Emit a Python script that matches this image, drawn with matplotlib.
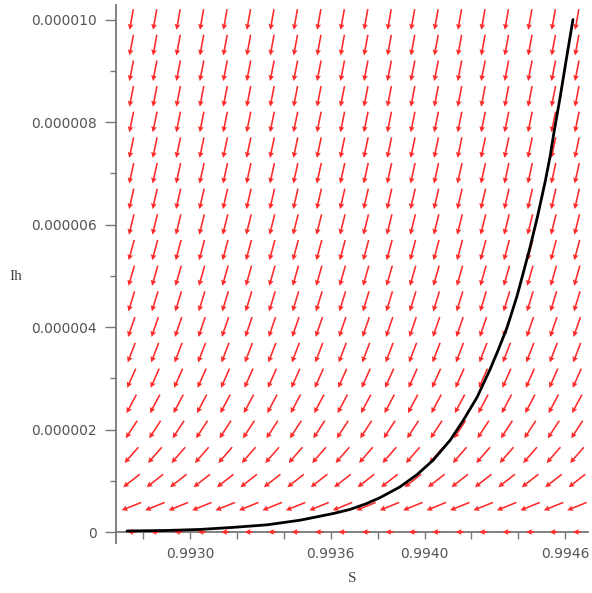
import numpy as np
import matplotlib
matplotlib.use("Agg")
import matplotlib.pyplot as plt
from matplotlib.ticker import FixedLocator, FixedFormatter

# solution curve (S, Ih)
curve_s = [0.992731, 0.992900, 0.993043, 0.993183, 0.993328, 0.993469, 0.993610,
           0.993682, 0.993750, 0.993810, 0.993895, 0.993968, 0.994036, 0.994109,
           0.994164, 0.994224, 0.994279, 0.994313, 0.994352, 0.994394, 0.994420,
           0.994450, 0.994480, 0.994515, 0.994535, 0.994552, 0.994578, 0.994608,
           0.994633]
curve_ih = [0.02e-6, 0.03e-6, 0.05e-6, 0.09e-6, 0.14e-6, 0.23e-6, 0.36e-6,
            0.44e-6, 0.55e-6, 0.67e-6, 0.88e-6, 1.12e-6, 1.40e-6, 1.79e-6,
            2.17e-6, 2.63e-6, 3.17e-6, 3.54e-6, 3.99e-6, 4.60e-6, 5.04e-6,
            5.56e-6, 6.12e-6, 6.85e-6, 7.32e-6, 7.80e-6, 8.48e-6, 9.32e-6,
            10.0e-6]

# direction field grid
field_s = [0.99275, 0.99285, 0.99295, 0.99305, 0.99315, 0.99325, 0.99335,
           0.99345, 0.99355, 0.99365, 0.99375, 0.99385, 0.99395, 0.99405,
           0.99415, 0.99425, 0.99435, 0.99445, 0.99455, 0.99465]
field_ih = [0.0, 0.5e-6, 1.0e-6, 1.5e-6, 2.0e-6, 2.5e-6, 3.0e-6, 3.5e-6,
            4.0e-6, 4.5e-6, 5.0e-6, 5.5e-6, 6.0e-6, 6.5e-6, 7.0e-6, 7.5e-6,
            8.0e-6, 8.5e-6, 9.0e-6, 9.5e-6, 10.0e-6]
# tilt of the arrows away from straight down (degrees, toward the left), per row
row_tilt = [90, 68, 52, 41, 33, 28, 24, 21, 19, 17, 16, 15, 14, 13, 12.5, 12,
            11.5, 11, 11, 10.5, 10]

xtick_pos = [0.9930, 0.9936, 0.9940, 0.9946]
xtick_labels = ["0.9930", "0.9936", "0.9940", "0.9946"]
ytick_pos = [0.0, 2e-6, 4e-6, 6e-6, 8e-6, 10e-6]
ytick_labels = ["0", "0.000002", "0.000004", "0.000006", "0.000008", "0.000010"]

fig = plt.figure(figsize=(5.92, 5.93), dpi=100)
ax = fig.add_axes([116 / 592, 50 / 593, 472 / 592, 538 / 593])

S, IH = np.meshgrid(field_s, field_ih)
tilt = np.repeat(np.array(row_tilt)[:, None], len(field_s), axis=1)
ang = 270 - tilt
lens = np.where(IH == 0, 8.0, 21.0)
ax.quiver(S, IH, lens, np.zeros_like(lens), angles=ang, scale_units="dots",
          scale=1, units="dots", width=1.6, headwidth=3.6, headlength=3.6,
          headaxislength=3.2, pivot="middle", color="#ff2a2a", zorder=3)

ax.plot(curve_s, curve_ih, color="black", lw=2.0, zorder=4,
        solid_capstyle="round", solid_joinstyle="round")

ax.set_xlim(0.992684, 0.994697)
ax.set_ylim(-0.2146e-6, 10.283e-6)

for side in ["top", "right"]:
    ax.spines[side].set_visible(False)
ax.spines["bottom"].set_position(("data", 0))
for side in ["left", "bottom"]:
    ax.spines[side].set_color("#777777")
    ax.spines[side].set_linewidth(1.3)

ax.xaxis.set_major_locator(FixedLocator(xtick_pos))
ax.xaxis.set_major_formatter(FixedFormatter(xtick_labels))
ax.xaxis.set_minor_locator(FixedLocator([0.9928, 0.9932, 0.9934, 0.9938, 0.9942, 0.9944]))
ax.yaxis.set_major_locator(FixedLocator(ytick_pos))
ax.yaxis.set_major_formatter(FixedFormatter(ytick_labels))
ax.yaxis.set_minor_locator(FixedLocator([1e-6, 3e-6, 5e-6, 7e-6, 9e-6]))

ax.tick_params(axis="x", which="both", direction="out", length=5, width=1,
               color="#777777", labelcolor="#555555", labelsize=10, pad=6)
ax.tick_params(axis="y", which="major", direction="out", length=8, width=1,
               color="#777777", labelcolor="#555555", labelsize=10, pad=6)
ax.tick_params(axis="y", which="minor", direction="out", length=4, width=1,
               color="#777777")

fig.text(16 / 592, 1 - 277 / 593, "Ih", family="Liberation Serif", fontsize=11,
         color="#444444", ha="center", va="center")
fig.text(352 / 592, 1 - 578 / 593, "S", family="Liberation Serif", fontsize=11,
         color="#444444", ha="center", va="center")

fig.savefig("out.png", dpi=100)
